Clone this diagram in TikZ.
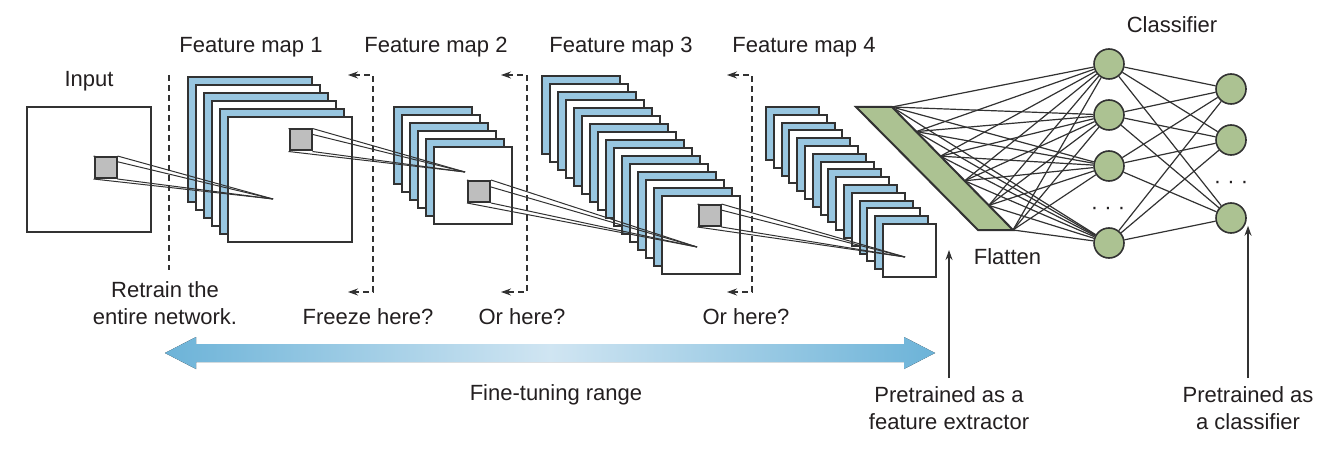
\documentclass[tikz,border=0pt]{standalone}
\usepackage{fontspec}
\setmainfont{Liberation Sans}
\usetikzlibrary{arrows.meta}

\definecolor{mapblue}{RGB}{152,198,224}
\definecolor{netgreen}{RGB}{172,194,146}
\definecolor{linegray}{RGB}{50,50,50}
\definecolor{kernelgray}{RGB}{190,190,190}
\definecolor{arrowblue}{RGB}{108,179,216}
\definecolor{arrowlight}{RGB}{208,229,242}
\definecolor{textgray}{RGB}{35,31,32}

\tikzset{
  bluesheet/.style={draw=linegray, line width=1pt, fill=mapblue},
  whitesheet/.style={draw=linegray, line width=1pt, fill=white},
  kernel/.style={draw=linegray, line width=1pt, fill=kernelgray, minimum width=11pt, minimum height=10.5pt, inner sep=0pt},
  ray/.style={draw=linegray, line width=0.5pt},
  cutline/.style={draw=linegray, line width=0.6pt, dash pattern=on 3pt off 2pt},
  freeze/.style={cutline, arrows={Stealth[length=5pt,width=3.5pt]-Stealth[length=5pt,width=3.5pt]}},
  neuron/.style={circle, draw=linegray, fill=netgreen, line width=0.8pt, minimum size=15pt, inner sep=0pt},
  synapse/.style={draw=linegray, line width=0.6pt},
  pointer/.style={draw=linegray, line width=0.7pt, -{Stealth[length=5pt,width=3.5pt]}},
  txt/.style={inner sep=0pt, text=textgray, font=\fontsize{11}{13.5}\selectfont},
}

\begin{document}
\begin{tikzpicture}[x=0.5pt,y=-0.5pt]
\useasboundingbox[fill=white] (0,0) rectangle (1342,454);

% input
\draw[whitesheet] (27,107) rectangle +(124,125);
\node[txt, anchor=base] (input) at (89,87) {Input};
\coordinate (cut0t) at (169,75);
\coordinate (cut0b) at (169,270);
\draw[cutline] (cut0t) -- (cut0b);

% feature map 1
\draw[bluesheet] (188,77) rectangle +(124,125);
\draw[whitesheet] (196,85) rectangle +(124,125);
\draw[bluesheet] (204,93) rectangle +(124,125);
\draw[whitesheet] (212,101) rectangle +(124,125);
\draw[bluesheet] (220,109) rectangle +(124,125);
\draw[whitesheet] (228,117) rectangle +(124,125);

% feature map 2
\draw[bluesheet] (394,107) rectangle +(78,77);
\draw[whitesheet] (402,115) rectangle +(78,77);
\draw[bluesheet] (410,123) rectangle +(78,77);
\draw[whitesheet] (418,131) rectangle +(78,77);
\draw[bluesheet] (426,139) rectangle +(78,77);
\draw[whitesheet] (434,147) rectangle +(78,77);

% feature map 3
\draw[bluesheet] (542,76) rectangle +(78,78);
\draw[whitesheet] (550,84) rectangle +(78,78);
\draw[bluesheet] (558,92) rectangle +(78,78);
\draw[whitesheet] (566,100) rectangle +(78,78);
\draw[bluesheet] (574,108) rectangle +(78,78);
\draw[whitesheet] (582,116) rectangle +(78,78);
\draw[bluesheet] (590,124) rectangle +(78,78);
\draw[whitesheet] (598,132) rectangle +(78,78);
\draw[bluesheet] (606,140) rectangle +(78,78);
\draw[whitesheet] (614,148) rectangle +(78,78);
\draw[bluesheet] (622,156) rectangle +(78,78);
\draw[whitesheet] (630,164) rectangle +(78,78);
\draw[bluesheet] (638,172) rectangle +(78,78);
\draw[whitesheet] (646,180) rectangle +(78,78);
\draw[bluesheet] (654,188) rectangle +(78,78);
\draw[whitesheet] (662,196) rectangle +(78,78);

% feature map 4
\draw[bluesheet] (766.0,107.0) rectangle +(53,53);
\draw[whitesheet] (773.8,114.8) rectangle +(53,53);
\draw[bluesheet] (781.6,122.6) rectangle +(53,53);
\draw[whitesheet] (789.4,130.4) rectangle +(53,53);
\draw[bluesheet] (797.2,138.2) rectangle +(53,53);
\draw[whitesheet] (805.0,146.0) rectangle +(53,53);
\draw[bluesheet] (812.8,153.8) rectangle +(53,53);
\draw[whitesheet] (820.6,161.6) rectangle +(53,53);
\draw[bluesheet] (828.4,169.4) rectangle +(53,53);
\draw[whitesheet] (836.2,177.2) rectangle +(53,53);
\draw[bluesheet] (844.0,185.0) rectangle +(53,53);
\draw[whitesheet] (851.8,192.8) rectangle +(53,53);
\draw[bluesheet] (859.6,200.6) rectangle +(53,53);
\draw[whitesheet] (867.4,208.4) rectangle +(53,53);
\draw[bluesheet] (875.2,216.2) rectangle +(53,53);
\draw[whitesheet] (883.0,224.0) rectangle +(53,53);

\node[txt, anchor=base] (fm1) at (251,53) {Feature map 1};
\node[txt, anchor=base] (fm2) at (436,53) {Feature map 2};
\node[txt, anchor=base] (fm3) at (621,53) {Feature map 3};
\node[txt, anchor=base] (fm4) at (804,53) {Feature map 4};

% receptive fields
\coordinate (a0) at (273,199);
\coordinate (a1) at (465,172);
\coordinate (a2) at (697,247);
\coordinate (a3) at (905,257);
\node[kernel] (k0) at (105.5,167.5) {};
\node[kernel] (k1) at (300.5,140) {};
\node[kernel] (k2) at (479,191.5) {};
\node[kernel] (k3) at (709.5,215.5) {};

\draw[ray] (k0.north west) -- (a0);
\draw[ray] (k0.north east) -- (a0);
\draw[ray] (k0.south west) -- (a0);
\draw[ray] (k0.south east) -- (a0);
\draw[ray] (k1.north west) -- (a1);
\draw[ray] (k1.north east) -- (a1);
\draw[ray] (k1.south west) -- (a1);
\draw[ray] (k1.south east) -- (a1);
\draw[ray] (k2.north west) -- (a2);
\draw[ray] (k2.north east) -- (a2);
\draw[ray] (k2.south west) -- (a2);
\draw[ray] (k2.south east) -- (a2);
\draw[ray] (k3.north west) -- (a3);
\draw[ray] (k3.north east) -- (a3);
\draw[ray] (k3.south west) -- (a3);
\draw[ray] (k3.south east) -- (a3);

\node[kernel] at (k0) {};
\node[kernel] at (k1) {};
\node[kernel] at (k2) {};
\node[kernel] at (k3) {};

% freeze points
\coordinate (f1t) at (348,75);
\coordinate (f1b) at (348,292);
\coordinate (f2t) at (501,75);
\coordinate (f2b) at (501,292);
\coordinate (f3t) at (727,75);
\coordinate (f3b) at (727,292);
\draw[freeze] (f1t) -- ++(25,0) |- (f1b);
\draw[freeze] (f2t) -- ++(26,0) |- (f2b);
\draw[freeze] (f3t) -- ++(25,0) |- (f3b);

\node[txt, anchor=north, align=center] (retrain) at (165,281) {Retrain the\\entire network.};
\node[txt, anchor=base] (frz1) at (368,324) {Freeze here?};
\node[txt, anchor=base] (frz2) at (522,324) {Or here?};
\node[txt, anchor=base] (frz3) at (746,324) {Or here?};

% flatten
\coordinate (e1) at (892,107);
\coordinate (e2) at (916.2,131.6);
\coordinate (e3) at (940.4,156.2);
\coordinate (e4) at (964.6,180.8);
\coordinate (e5) at (988.8,205.4);
\coordinate (e6) at (1013,230);

% classifier
\node[neuron] (h1) at (1109,64) {};
\node[neuron] (h2) at (1109,115) {};
\node[neuron] (h3) at (1109,166) {};
\node[neuron] (h4) at (1109,243) {};
\node[neuron] (o1) at (1231,89) {};
\node[neuron] (o2) at (1231,140) {};
\node[neuron] (o3) at (1231,218) {};
\node[txt, anchor=base] (hdots) at (1108,214) {· · ·};
\node[txt, anchor=base] (odots) at (1231,189) {· · ·};

\draw[synapse] (e1) -- (h1);
\draw[synapse] (e1) -- (h2);
\draw[synapse] (e1) -- (h3);
\draw[synapse] (e1) -- (h4);
\draw[synapse] (e2) -- (h1);
\draw[synapse] (e2) -- (h2);
\draw[synapse] (e2) -- (h3);
\draw[synapse] (e2) -- (h4);
\draw[synapse] (e3) -- (h1);
\draw[synapse] (e3) -- (h2);
\draw[synapse] (e3) -- (h3);
\draw[synapse] (e3) -- (h4);
\draw[synapse] (e4) -- (h1);
\draw[synapse] (e4) -- (h2);
\draw[synapse] (e4) -- (h3);
\draw[synapse] (e4) -- (h4);
\draw[synapse] (e5) -- (h1);
\draw[synapse] (e5) -- (h2);
\draw[synapse] (e5) -- (h3);
\draw[synapse] (e5) -- (h4);
\draw[synapse] (e6) -- (h1);
\draw[synapse] (e6) -- (h2);
\draw[synapse] (e6) -- (h3);
\draw[synapse] (e6) -- (h4);

\draw[line width=1pt, draw=linegray, fill=netgreen] (856,107) -- (e1) -- (e6) -- (978,230) -- cycle;
\node[txt, anchor=base] (flatten) at (1007.5,264) {Flatten};

\draw[synapse] (h1) -- (o1);
\draw[synapse] (h1) -- (o2);
\draw[synapse] (h1) -- (o3);
\draw[synapse] (h2) -- (o1);
\draw[synapse] (h2) -- (o2);
\draw[synapse] (h2) -- (o3);
\draw[synapse] (h3) -- (o1);
\draw[synapse] (h3) -- (o2);
\draw[synapse] (h3) -- (o3);
\draw[synapse] (h4) -- (o1);
\draw[synapse] (h4) -- (o2);
\draw[synapse] (h4) -- (o3);
\node[txt, anchor=base] (classifier) at (1172,33) {Classifier};

% fine-tuning range
\fill[left color=arrowblue, right color=arrowblue, middle color=arrowlight]
  (165,353) -- (196,337) -- (196,344) -- (904,344) -- (904,337) -- (935,353)
  -- (904,369) -- (904,362) -- (196,362) -- (196,369) -- cycle;
\node[txt, anchor=base] (range) at (556,400) {Fine-tuning range};

% pretrained parts
\node[txt, anchor=north, align=center] (extractor) at (949,386) {Pretrained as a\\feature extractor};
\node[txt, anchor=north, align=center] (clslabel) at (1248,386) {Pretrained as\\a classifier};
\coordinate (fx) at (949,250);
\draw[pointer] ([yshift=4pt]extractor.north) -- (fx);
\draw[pointer] ([yshift=4pt]clslabel.north) -- ([yshift=4pt]clslabel.north |- o3.south);
\end{tikzpicture}
\end{document}
